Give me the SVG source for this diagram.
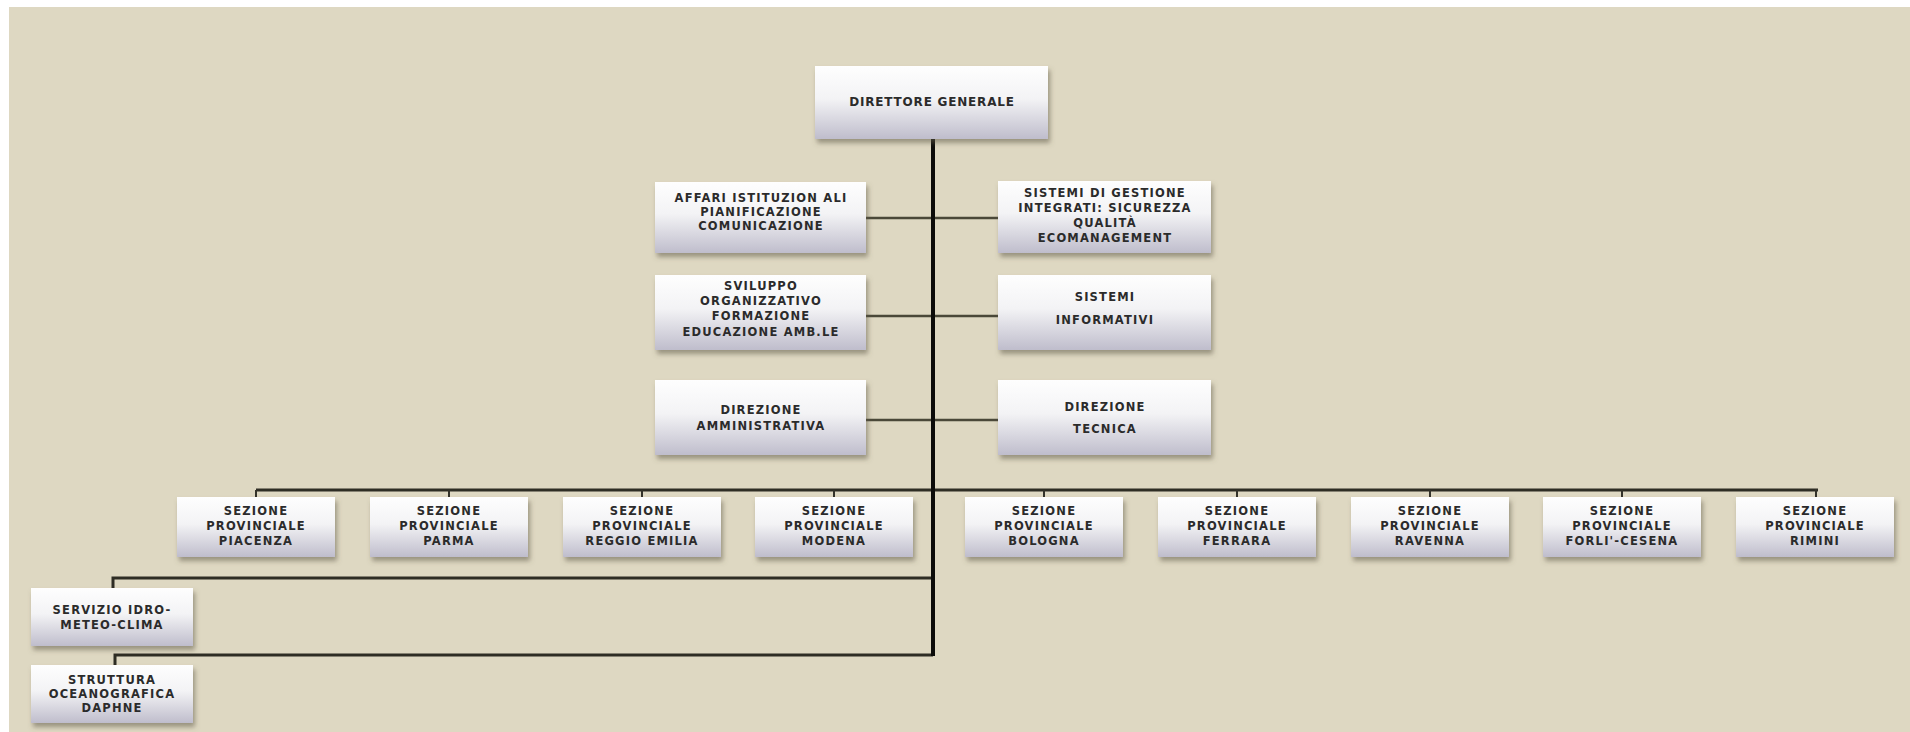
<svg xmlns="http://www.w3.org/2000/svg" width="1910" height="732" viewBox="0 0 1910 732">
<defs>
<linearGradient id="boxg" x1="0" y1="0" x2="0" y2="1">
<stop offset="0" stop-color="#fefefe"/>
<stop offset="0.45" stop-color="#f3f3f5"/>
<stop offset="1" stop-color="#bfbdcc"/>
</linearGradient>
<filter id="sh" x="-10%" y="-20%" width="125%" height="150%">
<feDropShadow dx="2" dy="4" stdDeviation="2.5" flood-color="#5e5a48" flood-opacity="0.55"/>
</filter>
<style>
.box{fill:url(#boxg);filter:url(#sh);}
.t{font-family:"DejaVu Sans","Liberation Sans",sans-serif;font-weight:bold;font-size:11.5px;letter-spacing:1.2px;fill:#2b2b2b;text-anchor:middle;dominant-baseline:middle;}
.tb{font-size:12px;letter-spacing:0.8px;}
.main{stroke:#0c0c0a;stroke-width:4;fill:none;}
.side{stroke:#4a4838;stroke-width:2.5;fill:none;}
.bus{stroke:#2e2d24;stroke-width:3;fill:none;}
.drop{stroke:#34332a;stroke-width:2;fill:none;}
</style>
</defs>
<rect x="0" y="0" width="1910" height="732" fill="#ffffff"/>
<rect x="9" y="7" width="1901" height="725" fill="#ded8c2"/>

<g id="connectors">
<line class="side" x1="866" y1="218" x2="998" y2="218"/>
<line class="side" x1="866" y1="316" x2="998" y2="316"/>
<line class="side" x1="866" y1="420" x2="998" y2="420"/>
<line class="bus" x1="256" y1="490" x2="1818" y2="490"/>
<line class="drop" x1="256" y1="490" x2="256" y2="497"/>
<line class="drop" x1="449" y1="490" x2="449" y2="497"/>
<line class="drop" x1="642" y1="490" x2="642" y2="497"/>
<line class="drop" x1="834" y1="490" x2="834" y2="497"/>
<line class="drop" x1="1044" y1="490" x2="1044" y2="497"/>
<line class="drop" x1="1237" y1="490" x2="1237" y2="497"/>
<line class="drop" x1="1430" y1="490" x2="1430" y2="497"/>
<line class="drop" x1="1622" y1="490" x2="1622" y2="497"/>
<line class="drop" x1="1816" y1="489" x2="1816" y2="497"/>
<polyline class="bus" points="113,588 113,578 933,578"/>
<polyline class="bus" points="115,665 115,655 933,655"/>
<line class="main" x1="933" y1="139" x2="933" y2="656"/>
</g>

<g id="n-direttore">
<rect class="box" x="815" y="66" width="233" height="73"/>
<text class="t tb" x="932" y="102">DIRETTORE  GENERALE</text>
</g>

<g id="n-affari">
<rect class="box" x="655" y="182" width="211" height="71"/>
<text class="t" x="761" y="198">AFFARI ISTITUZION ALI</text>
<text class="t" x="761" y="212">PIANIFICAZIONE</text>
<text class="t" x="761" y="226">COMUNICAZIONE</text>
</g>

<g id="n-sistemi-gestione">
<rect class="box" x="998" y="181" width="213" height="72"/>
<text class="t" x="1105" y="193">SISTEMI  DI  GESTIONE</text>
<text class="t" x="1105" y="208">INTEGRATI:  SICUREZZA</text>
<text class="t" x="1105" y="223">QUALITÀ</text>
<text class="t" x="1105" y="238">ECOMANAGEMENT</text>
</g>

<g id="n-sviluppo">
<rect class="box" x="655" y="275" width="211" height="75"/>
<text class="t" x="761" y="286">SVILUPPO</text>
<text class="t" x="761" y="301">ORGANIZZATIVO</text>
<text class="t" x="761" y="316">FORMAZIONE</text>
<text class="t" x="761" y="332">EDUCAZIONE  AMB.LE</text>
</g>

<g id="n-sistemi-informativi">
<rect class="box" x="998" y="275" width="213" height="75"/>
<text class="t" x="1105" y="297">SISTEMI</text>
<text class="t" x="1105" y="320">INFORMATIVI</text>
</g>

<g id="n-dir-amministrativa">
<rect class="box" x="655" y="380" width="211" height="75"/>
<text class="t" x="761" y="410">DIREZIONE</text>
<text class="t" x="761" y="426">AMMINISTRATIVA</text>
</g>

<g id="n-dir-tecnica">
<rect class="box" x="998" y="380" width="213" height="75"/>
<text class="t" x="1105" y="407">DIREZIONE</text>
<text class="t" x="1105" y="429">TECNICA</text>
</g>

<g id="n-piacenza">
<rect class="box" x="177" y="497" width="158" height="60"/>
<text class="t" x="256" y="511">SEZIONE</text>
<text class="t" x="256" y="526">PROVINCIALE</text>
<text class="t" x="256" y="541">PIACENZA</text>
</g>
<g id="n-parma">
<rect class="box" x="370" y="497" width="158" height="60"/>
<text class="t" x="449" y="511">SEZIONE</text>
<text class="t" x="449" y="526">PROVINCIALE</text>
<text class="t" x="449" y="541">PARMA</text>
</g>
<g id="n-reggio">
<rect class="box" x="563" y="497" width="158" height="60"/>
<text class="t" x="642" y="511">SEZIONE</text>
<text class="t" x="642" y="526">PROVINCIALE</text>
<text class="t" x="642" y="541">REGGIO  EMILIA</text>
</g>
<g id="n-modena">
<rect class="box" x="755" y="497" width="158" height="60"/>
<text class="t" x="834" y="511">SEZIONE</text>
<text class="t" x="834" y="526">PROVINCIALE</text>
<text class="t" x="834" y="541">MODENA</text>
</g>
<g id="n-bologna">
<rect class="box" x="965" y="497" width="158" height="60"/>
<text class="t" x="1044" y="511">SEZIONE</text>
<text class="t" x="1044" y="526">PROVINCIALE</text>
<text class="t" x="1044" y="541">BOLOGNA</text>
</g>
<g id="n-ferrara">
<rect class="box" x="1158" y="497" width="158" height="60"/>
<text class="t" x="1237" y="511">SEZIONE</text>
<text class="t" x="1237" y="526">PROVINCIALE</text>
<text class="t" x="1237" y="541">FERRARA</text>
</g>
<g id="n-ravenna">
<rect class="box" x="1351" y="497" width="158" height="60"/>
<text class="t" x="1430" y="511">SEZIONE</text>
<text class="t" x="1430" y="526">PROVINCIALE</text>
<text class="t" x="1430" y="541">RAVENNA</text>
</g>
<g id="n-forli">
<rect class="box" x="1543" y="497" width="158" height="60"/>
<text class="t" x="1622" y="511">SEZIONE</text>
<text class="t" x="1622" y="526">PROVINCIALE</text>
<text class="t" x="1622" y="541">FORLI'-CESENA</text>
</g>
<g id="n-rimini">
<rect class="box" x="1736" y="497" width="158" height="60"/>
<text class="t" x="1815" y="511">SEZIONE</text>
<text class="t" x="1815" y="526">PROVINCIALE</text>
<text class="t" x="1815" y="541">RIMINI</text>
</g>

<g id="n-servizio">
<rect class="box" x="31" y="588" width="162" height="58"/>
<text class="t" x="112" y="610">SERVIZIO  IDRO-</text>
<text class="t" x="112" y="625">METEO-CLIMA</text>
</g>
<g id="n-struttura">
<rect class="box" x="31" y="665" width="162" height="58"/>
<text class="t" x="112" y="680">STRUTTURA</text>
<text class="t" x="112" y="694">OCEANOGRAFICA</text>
<text class="t" x="112" y="708">DAPHNE</text>
</g>
</svg>
